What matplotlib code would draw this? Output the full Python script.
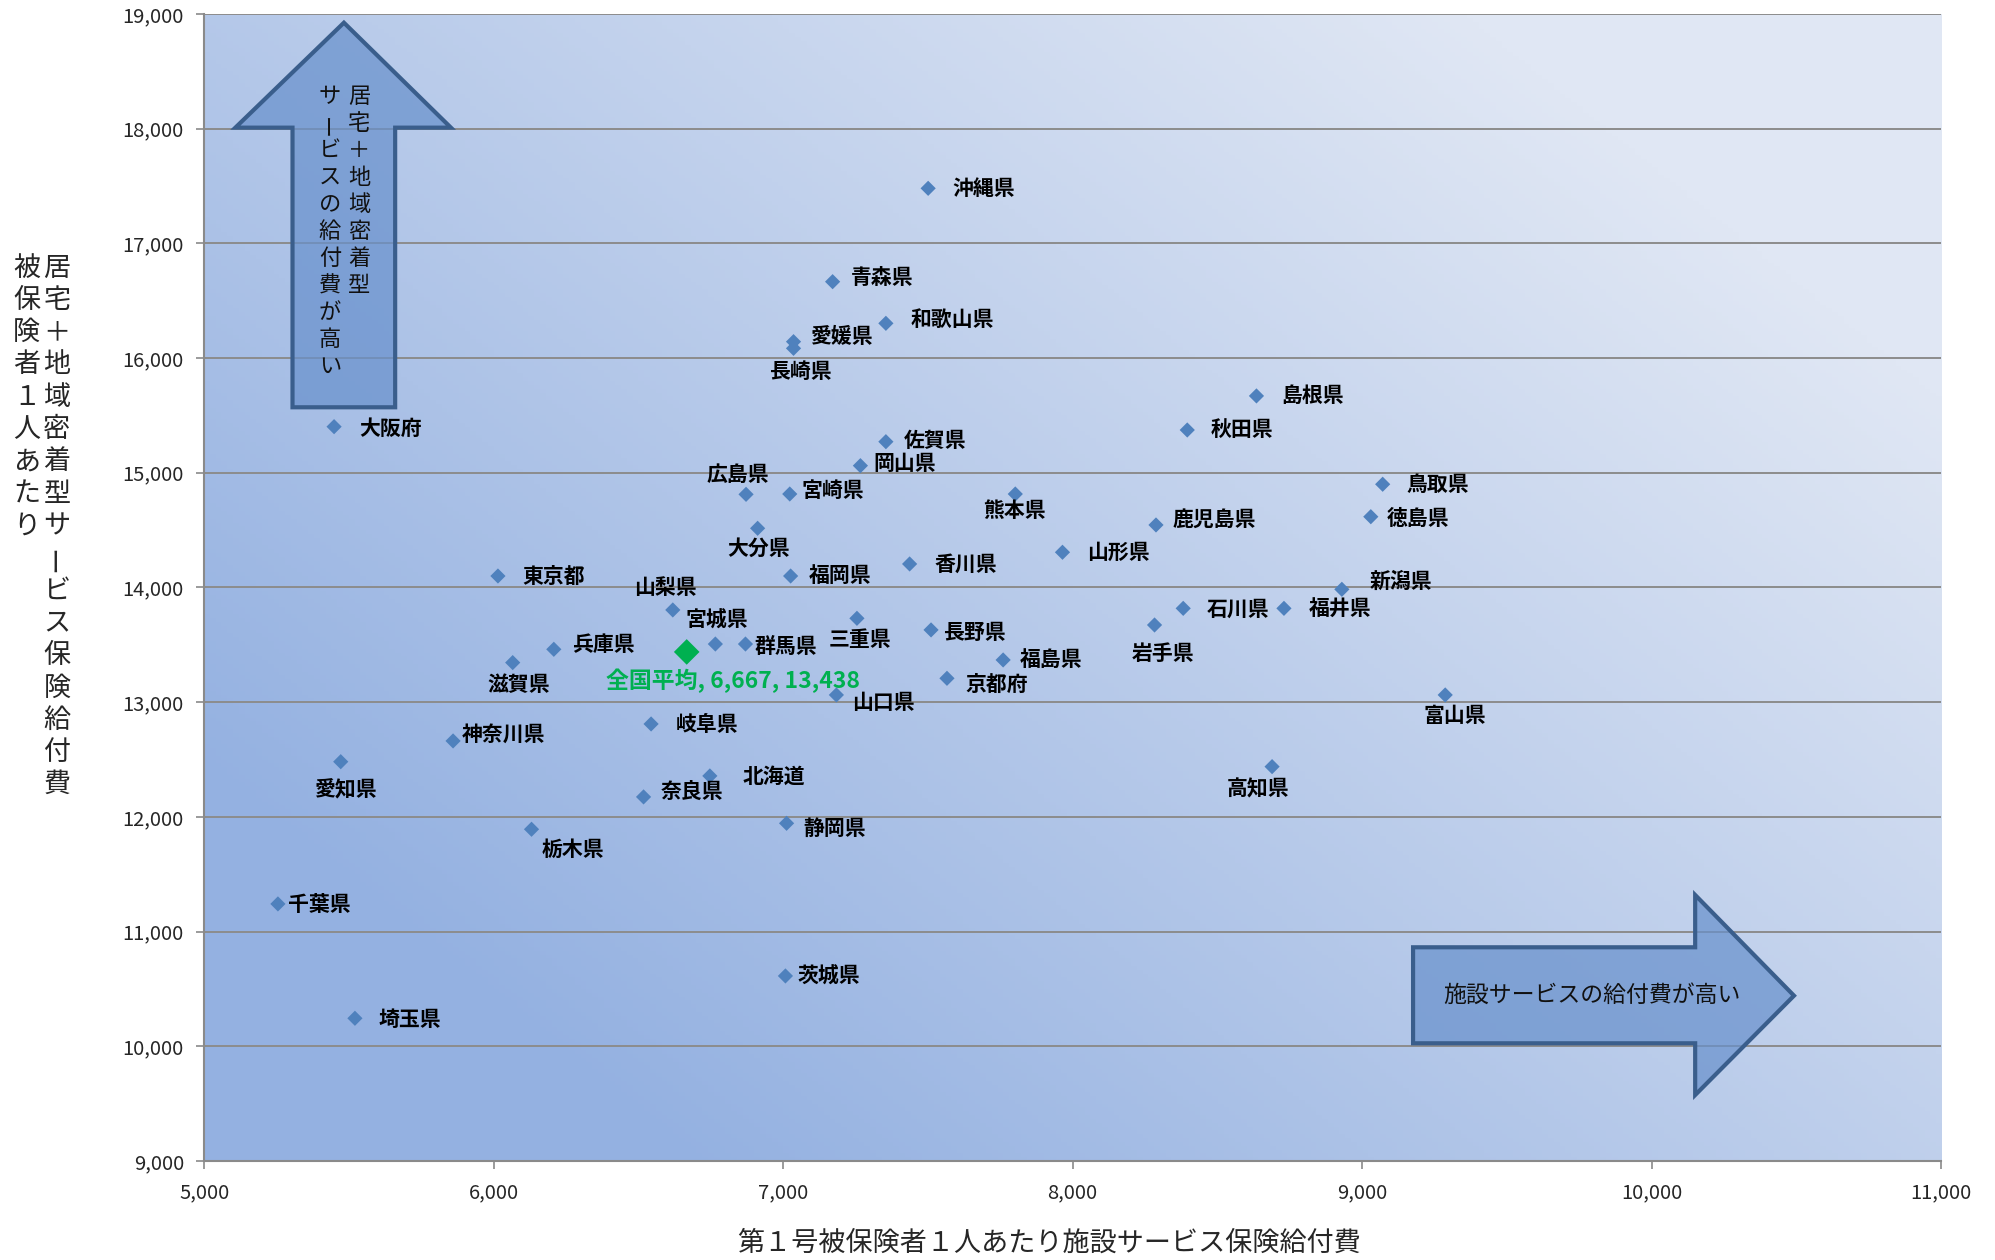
import numpy as np
import matplotlib
matplotlib.use('Agg')
import matplotlib.pyplot as plt
from matplotlib.patches import Polygon
from matplotlib.colors import to_rgb
from matplotlib.ticker import FuncFormatter

plt.rcParams['font.family'] = ['Noto Sans CJK JP', 'DejaVu Sans']

# 都道府県別 第1号被保険者1人あたり給付費 (円)
prefs = ['北海道', '青森県', '岩手県', '宮城県', '秋田県', '山形県', '福島県',
         '茨城県', '栃木県', '群馬県', '埼玉県', '千葉県', '東京都', '神奈川県',
         '新潟県', '富山県', '石川県', '福井県', '山梨県', '長野県', '岐阜県',
         '静岡県', '愛知県', '三重県', '滋賀県', '京都府', '大阪府', '兵庫県',
         '奈良県', '和歌山県', '鳥取県', '島根県', '岡山県', '広島県', '山口県',
         '徳島県', '香川県', '愛媛県', '高知県', '福岡県', '佐賀県', '長崎県',
         '熊本県', '大分県', '宮崎県', '鹿児島県', '沖縄県']
shisetsu = [6747, 7171, 8283, 6766, 8396, 7965, 7760,
            7008, 6131, 6870, 5521, 5255, 6015, 5860,
            8930, 9287, 8382, 8730, 6619, 7511, 6544,
            7012, 5472, 7255, 6066, 7566, 5449, 6208,
            6518, 7355, 9071, 8635, 7267, 6872, 7184,
            9030, 7437, 7036, 8689, 7026, 7355, 7036,
            7802, 6912, 7023, 8288, 7501]
kyotaku = [12357, 16666, 13673, 13507, 15373, 14307, 13368,
           10613, 11892, 13507, 10244, 11241, 14100, 12662,
           13984, 13063, 13818, 13818, 13804, 13630, 12810,
           11944, 12481, 13731, 13345, 13208, 15402, 13461,
           12174, 16303, 14900, 15670, 15062, 14812, 13063,
           14617, 14205, 16143, 12438, 14100, 15271, 16085,
           14815, 14516, 14815, 14545, 17480]
avg_x = 6667
avg_y = 13438

# label offsets from each point, pixels (right, down)
lab_dx = [33, 18, -23, -30, 23, 25, 17,
          12, 10, 9, 24, 10, 24, 9,
          28, -22, 24, 25, -39, 12, 25,
          17, -26, -28, -25, 18, 25, 18,
          17, 25, 24, 25, 13, -40, 16,
          16, 25, 17, -45, 18, 18, -25,
          -32, -30, 12, 17, 24]
lab_dy = [0, -4, 28, -24, 0, 0, 0,
          0, 20, 2, 1, 1, 0, -7,
          -8, 21, 1, 1, -22, 3, 1,
          5, 28, 21, 22, 6, 2, -5,
          -6, -4, 0, 0, -2, -20, 8,
          2, 0, -5, 22, -1, -1, 23,
          17, 20, -4, -6, 0]

fig = plt.figure(figsize=(19.95, 12.6), dpi=100)
ax = fig.add_axes([0.1023, 0.0786, 0.8707, 0.9103])

# diagonal gradient fill of the plot area
n = 300
U, V = np.meshgrid(np.linspace(0, 1, n), np.linspace(0, 1, n))
t = np.clip((0.55 * U + 0.45 * V - 0.15) / 0.7, 0, 1)[..., None]
c0 = np.array(to_rgb('#94B1E1'))
c1 = np.array(to_rgb('#E0E7F4'))
ax.imshow(c0 * (1 - t) + c1 * t, extent=(0, 1, 0, 1), origin='lower',
          transform=ax.transAxes, aspect='auto', zorder=0)

ax.set_xlim(5000, 11000)
ax.set_ylim(9000, 19000)
ax.set_xticks(range(5000, 11001, 1000))
ax.set_yticks(range(9000, 19001, 1000))
fmt = FuncFormatter(lambda v, p: f'{v:,.0f}')
ax.xaxis.set_major_formatter(fmt)
ax.yaxis.set_major_formatter(fmt)
ax.set_axisbelow(True)
ax.yaxis.grid(True, color='#8c8c8c', lw=1.4)
for s in ['top', 'right']:
    ax.spines[s].set_visible(False)
for s in ['left', 'bottom']:
    ax.spines[s].set_color('#8a8a8a')
    ax.spines[s].set_linewidth(1.5)
ax.tick_params(direction='out', length=5.5, width=1.2, color='#8a8a8a',
               labelsize=14.5, labelcolor='#262626')
ax.tick_params(axis='y', pad=9)
ax.tick_params(axis='x', pad=10)

# arrows
up = Polygon([(0.0805, 0.9924), (0.1421, 0.9009), (0.1100, 0.9009), (0.1100, 0.6571),
              (0.0509, 0.6571), (0.0509, 0.9009), (0.0180, 0.9009)], closed=True,
             transform=ax.transAxes, facecolor='#6790CC', alpha=0.7, edgecolor='none', zorder=1)
ax.add_patch(up)
up_e = Polygon(up.get_xy(), closed=True, transform=ax.transAxes, fill=False,
               edgecolor='#3A5E8C', lw=3, joinstyle='miter', zorder=1.1)
ax.add_patch(up_e)
right = Polygon([(0.9153, 0.1441), (0.8584, 0.2319), (0.8584, 0.1863), (0.6960, 0.1863),
                 (0.6960, 0.1026), (0.8584, 0.1026), (0.8584, 0.0575)], closed=True,
                transform=ax.transAxes, facecolor='#6790CC', alpha=0.7, edgecolor='none', zorder=1)
ax.add_patch(right)
right_e = Polygon(right.get_xy(), closed=True, transform=ax.transAxes, fill=False,
                  edgecolor='#3A5E8C', lw=3, joinstyle='miter', zorder=1.1)
ax.add_patch(right_e)


def vtext(x, y0, s, step, transform, **kw):
    # vertical Japanese text, one character per line
    for i, ch in enumerate(s):
        rot = 90 if ch == 'ー' else 0
        fig.text(x, y0 - i * step, ch, transform=transform, rotation=rot,
                 ha='center', va='center', **kw)


vtext(0.0892, 0.9279, '居宅＋地域密着型', 27 / 1147, ax.transAxes, fontsize=16, color='#111111', zorder=2)
vtext(0.0725, 0.9279, 'サービスの給付費が高い', 27 / 1147, ax.transAxes, fontsize=16, color='#111111', zorder=2)
ax.text(0.7991, 0.1441, '施設サービスの給付費が高い', transform=ax.transAxes,
        ha='center', va='center', fontsize=16.5, color='#111111', zorder=2)

# points
ax.scatter(shisetsu, kyotaku, marker='D', s=60, color='#4F81BD', edgecolors='none', zorder=3)
ax.scatter([avg_x], [avg_y], marker='D', s=170, color='#00B050', edgecolors='none', zorder=4)

for name, x, y, dx, dy in zip(prefs, shisetsu, kyotaku, lab_dx, lab_dy):
    ax.annotate(name, (x, y), xytext=(dx, -dy), textcoords='offset pixels',
                ha='left', va='center', fontsize=15, fontweight='bold', color='black', zorder=5)
ax.annotate(f'全国平均, {avg_x:,}, {avg_y:,}', (avg_x, avg_y), xytext=(-81, -29),
            textcoords='offset pixels', ha='left', va='center', fontsize=16.5,
            fontweight='bold', color='#00B050', zorder=5)

# axis titles
fig.text(1049.5 / 1995, 1 - 1243 / 1260, '第１号被保険者１人あたり施設サービス保険給付費',
         ha='center', va='center', fontsize=19.5, color='#262626')
vtext(57 / 1995, 1 - 268 / 1260, '居宅＋地域密着型サービス保険給付費', 32.3 / 1260,
      fig.transFigure, fontsize=19.5, color='#262626')
vtext(26.8 / 1995, 1 - 268 / 1260, '被保険者１人あたり', 32.3 / 1260,
      fig.transFigure, fontsize=19.5, color='#262626')

fig.savefig('out.png', dpi=100, facecolor='white')
